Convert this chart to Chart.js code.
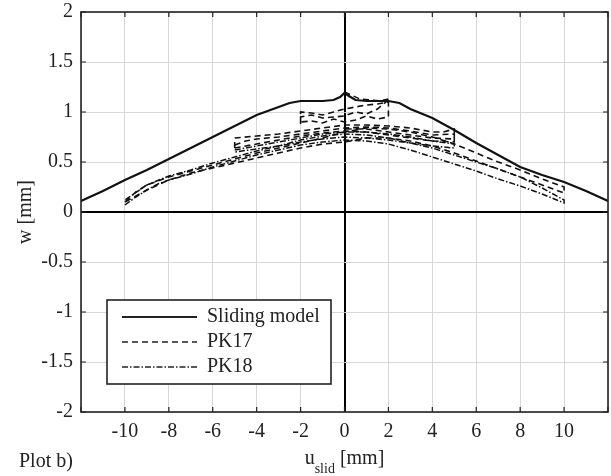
<!DOCTYPE html>
<html>
<head>
<meta charset="utf-8">
<script src="https://cdn.jsdelivr.net/npm/chart.js@4.4.0/dist/chart.umd.min.js"></script>
<style>
  html, body { margin: 0; padding: 0; background: #fff; }
</style>
</head>
<body>
<canvas id="myChart" width="611" height="476"></canvas>
<script>
'use strict';

// axis ticks
const xTicks = [-12, -10, -8, -6, -4, -2, 0, 2, 4, 6, 8, 10, 12];
const yTicks = [-2, -1.5, -1, -0.5, 0, 0.5, 1, 1.5, 2];

// sliding model (solid)
const slidingX = [-12, -11, -10, -9, -8, -7, -6, -5, -4, -3, -2.5, -2, -1.5, -1, -0.5, -0.2, 0, 0.2, 0.5, 1, 1.5, 2, 2.5, 3, 4, 5, 6, 7, 8, 9, 10, 11, 12];
const slidingY = [0.11, 0.21, 0.32, 0.42, 0.53, 0.64, 0.75, 0.86, 0.97, 1.05, 1.09, 1.11, 1.11, 1.11, 1.12, 1.15, 1.19, 1.16, 1.12, 1.11, 1.11, 1.11, 1.09, 1.03, 0.94, 0.82, 0.69, 0.57, 0.45, 0.37, 0.30, 0.21, 0.11];

// PK17 (dashed) - cycles at +-2, +-5 and +-10 mm
const pk17SmallX = [-2, -2, -1.5, -1, -0.5, 0, 0.5, 1, 1.5, 2, 2, 1.5, 1, 0.5, 0, -0.5, -1, -1.5, -2, -2, -1.5, -1, 0, 0.5, 1, 1.5, 2];
const pk17SmallY = [0.88, 1.0, 0.99, 0.97, 1.0, 1.03, 1.05, 1.07, 1.08, 1.1, 0.95, 0.93, 0.96, 0.92, 0.9, 0.93, 0.89, 0.91, 0.9, 0.95, 0.97, 0.94, 0.96, 1.0, 0.98, 1.03, 1.12];
const pk17TopX = [0, 0.3, 0.7, 1.2, 1.6, 2];
const pk17TopY = [1.2, 1.17, 1.13, 1.12, 1.11, 1.13];
const pk17MidX = [-5, -5, -4, -3, -2, -1, 0, 1, 2, 3, 4, 4.5, 5, 5, 4, 3, 2, 1, 0, -1, -2, -3, -4, -5];
const pk17MidY = [0.64, 0.74, 0.76, 0.78, 0.81, 0.84, 0.87, 0.87, 0.86, 0.84, 0.8, 0.8, 0.83, 0.7, 0.71, 0.74, 0.77, 0.8, 0.81, 0.79, 0.76, 0.72, 0.68, 0.64];
const pk17Mid2X = [-5, -4.5, -4, -3, -2, -1, 0, 1, 2, 3, 4, 5, 5, 4, 3, 2, 1, 0];
const pk17Mid2Y = [0.67, 0.71, 0.73, 0.75, 0.78, 0.81, 0.84, 0.85, 0.84, 0.81, 0.77, 0.78, 0.73, 0.74, 0.77, 0.8, 0.83, 0.83];
const pk17WideX = [-10, -9.5, -9, -8.5, -8, -7, -6, -5, -4, -3, -2, -1, 0, 1, 2, 3, 4, 5, 6, 7, 8, 9, 10, 10, 9, 8, 7, 6, 5, 4, 3, 2, 1, 0, -1, -2, -3, -4, -5, -6, -7, -8, -9, -10];
const pk17WideY = [0.1, 0.2, 0.27, 0.31, 0.35, 0.41, 0.47, 0.53, 0.59, 0.64, 0.69, 0.74, 0.8, 0.84, 0.83, 0.8, 0.75, 0.68, 0.59, 0.5, 0.42, 0.33, 0.25, 0.19, 0.27, 0.35, 0.43, 0.51, 0.59, 0.66, 0.71, 0.74, 0.74, 0.7, 0.68, 0.64, 0.59, 0.54, 0.49, 0.44, 0.39, 0.32, 0.22, 0.1];

// PK18 (dash-dot) - cycles at +-5 and +-10 mm
const pk18MidX = [-5, -4, -3, -2, -1, 0, 1, 2, 3, 4, 5, 5, 4, 3, 2, 1, 0, -1, -2, -3, -4, -5];
const pk18MidY = [0.62, 0.66, 0.7, 0.74, 0.78, 0.8, 0.8, 0.78, 0.75, 0.71, 0.68, 0.64, 0.66, 0.69, 0.72, 0.74, 0.75, 0.73, 0.7, 0.66, 0.63, 0.6];
const pk18WideX = [-10, -9.5, -9, -8.5, -8, -7, -6, -5, -4, -3, -2, -1, 0, 1, 2, 3, 4, 5, 6, 7, 8, 9, 10, 10, 9, 8, 7, 6, 5, 4, 3, 2, 1, 0, -1, -2, -3, -4, -5, -6, -7, -8, -9, -10];
const pk18WideY = [0.07, 0.15, 0.22, 0.28, 0.32, 0.38, 0.45, 0.51, 0.57, 0.62, 0.67, 0.7, 0.72, 0.71, 0.68, 0.62, 0.55, 0.48, 0.41, 0.33, 0.26, 0.18, 0.09, 0.12, 0.24, 0.35, 0.43, 0.5, 0.57, 0.64, 0.69, 0.74, 0.77, 0.78, 0.76, 0.72, 0.66, 0.61, 0.55, 0.49, 0.42, 0.36, 0.27, 0.12];

const legendLabels = ['Sliding model', 'PK17', 'PK18'];

const FONT = '"Liberation Serif", "Times New Roman", serif';
const TXT = '#222';
const DASH17 = [6, 4];
const DASH18 = [6, 2, 1.5, 2];

function pts(xs, ys) {
   return xs.map(function (x, i) { return { x: x, y: ys[i] }; });
}

function line(xs, ys, dash, width) {
   return {
      data: pts(xs, ys),
      showLine: true,
      borderColor: '#111',
      borderWidth: width,
      borderDash: dash,
      pointRadius: 0,
      fill: false,
      tension: 0
   };
}

// frame, inner ticks, legend and x title
const decor = {
   id: 'decor',
   afterDatasetsDraw: function (chart) {
      const ctx = chart.ctx;
      const a = chart.chartArea;
      const sx = chart.scales.x, sy = chart.scales.y;
      ctx.save();
      ctx.strokeStyle = '#222';
      ctx.lineWidth = 1.2;
      ctx.setLineDash([]);
      ctx.beginPath();
      xTicks.forEach(function (v) {
         const px = sx.getPixelForValue(v);
         ctx.moveTo(px, a.bottom); ctx.lineTo(px, a.bottom - 5);
         ctx.moveTo(px, a.top); ctx.lineTo(px, a.top + 5);
      });
      yTicks.forEach(function (v) {
         const py = sy.getPixelForValue(v);
         ctx.moveTo(a.left, py); ctx.lineTo(a.left + 5, py);
         ctx.moveTo(a.right, py); ctx.lineTo(a.right - 5, py);
      });
      ctx.stroke();
      ctx.lineWidth = 1.6;
      ctx.strokeRect(a.left, a.top, a.right - a.left, a.bottom - a.top);

      // legend box
      const lx = 107, ly = 300, lw = 224, lh = 84;
      ctx.fillStyle = '#fff';
      ctx.fillRect(lx, ly, lw, lh);
      ctx.lineWidth = 1.6;
      ctx.strokeStyle = '#222';
      ctx.strokeRect(lx, ly, lw, lh);
      const dashes = [[], DASH17, DASH18];
      const widths = [2.2, 1.6, 1.6];
      ctx.font = '20px ' + FONT;
      ctx.textBaseline = 'middle';
      ctx.fillStyle = TXT;
      legendLabels.forEach(function (lab, i) {
         const yy = 317 + i * 25;
         ctx.beginPath();
         ctx.setLineDash(dashes[i]);
         ctx.lineWidth = widths[i];
         ctx.moveTo(122, yy); ctx.lineTo(197, yy);
         ctx.stroke();
         ctx.setLineDash([]);
         ctx.fillText(lab, 207, yy);
      });

      // x axis title with subscript
      ctx.textBaseline = 'alphabetic';
      ctx.font = '20px ' + FONT;
      const uW = ctx.measureText('u').width;
      ctx.font = '14px ' + FONT;
      const sW = ctx.measureText('slid').width;
      ctx.font = '20px ' + FONT;
      const mW = ctx.measureText(' [mm]').width;
      let tx = (a.left + a.right) / 2 - (uW + sW + mW) / 2;
      ctx.fillText('u', tx, 464);
      ctx.font = '14px ' + FONT;
      ctx.fillText('slid', tx + uW, 473);
      ctx.font = '20px ' + FONT;
      ctx.fillText(' [mm]', tx + uW + sW, 464);

      ctx.fillText('Plot b)', 19, 467);
      ctx.restore();
   }
};

const gridColor = function (c) {
   return c.tick && c.tick.value === 0 ? '#000' : '#d6d6d6';
};
const gridWidth = function (c) {
   return c.tick && c.tick.value === 0 ? 2 : 1;
};

new Chart(document.getElementById('myChart'), {
   type: 'scatter',
   data: {
      datasets: [
         line(pk18WideX, pk18WideY, DASH18, 1.5),
         line(pk18MidX, pk18MidY, DASH18, 1.5),
         line(pk17WideX, pk17WideY, DASH17, 1.6),
         line(pk17MidX, pk17MidY, DASH17, 1.6),
         line(pk17Mid2X, pk17Mid2Y, DASH17, 1.6),
         line(pk17SmallX, pk17SmallY, DASH17, 1.6),
         line(pk17TopX, pk17TopY, DASH17, 1.6),
         line(slidingX, slidingY, [], 2.2)
      ]
   },
   options: {
      responsive: false,
      animation: false,
      layout: { padding: { top: 12, right: 3, left: 0, bottom: 0 } },
      plugins: { legend: { display: false }, tooltip: { enabled: false } },
      scales: {
         x: {
            type: 'linear',
            min: -12, max: 12,
            afterFit: function (s) { s.height = 64; s.paddingLeft = 0; s.paddingRight = 0; },
            afterBuildTicks: function (s) { s.ticks = xTicks.map(function (v) { return { value: v }; }); },
            ticks: {
               padding: 8,
               color: TXT,
               font: { family: FONT, size: 20 },
               maxRotation: 0,
               autoSkip: false,
               callback: function (v) { return Math.abs(v) === 12 ? '' : String(v); }
            },
            grid: { color: gridColor, lineWidth: gridWidth, drawTicks: false },
            border: { display: false }
         },
         y: {
            min: -2, max: 2,
            afterFit: function (s) { s.width = 81; s.paddingTop = 0; s.paddingBottom = 0; },
            afterBuildTicks: function (s) { s.ticks = yTicks.map(function (v) { return { value: v }; }); },
            ticks: {
               padding: 8,
               color: TXT,
               font: { family: FONT, size: 20 },
               autoSkip: false,
               callback: function (v) { return String(v); }
            },
            grid: { color: gridColor, lineWidth: gridWidth, drawTicks: false },
            border: { display: false },
            title: {
               display: true,
               text: 'w [mm]',
               color: TXT,
               font: { family: FONT, size: 20 },
               padding: { top: 14, bottom: 0 }
            }
         }
      }
   },
   plugins: [decor]
});
</script>
</body>
</html>
